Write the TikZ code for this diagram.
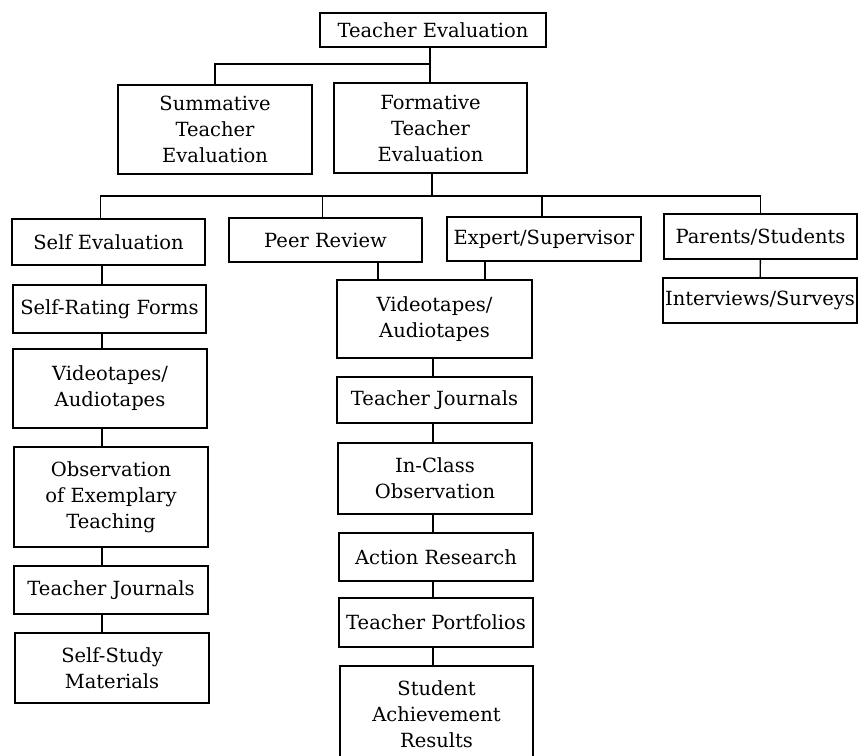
\documentclass[tikz,border=0pt]{standalone}
\usepackage{fontspec}
\setmainfont{DejaVu Serif}
\usetikzlibrary{positioning}

\tikzset{
  box/.style={draw, line width=1.4pt, align=center, inner sep=0pt,
    font=\fontsize{19.5}{26}\selectfont},
  link/.style={line width=1.4pt},
}

\begin{document}
\begin{tikzpicture}[x=1pt,y=-1pt]
\useasboundingbox (0,0) rectangle (858,755);
% top levels
\node[box, minimum width=226pt, minimum height=34pt] (top) at (433,30) {Teacher Evaluation};
\node[box, minimum width=194pt, minimum height=89pt] (summ) at (215,129.5) {Summative\\Teacher\\Evaluation};
\node[box, minimum width=193pt, minimum height=90pt] (form) at (430.5,128) {Formative\\Teacher\\Evaluation};
% sources
\node[box, minimum width=193pt, minimum height=46pt] (selfeval) at (108.5,242) {Self Evaluation};
\node[box, minimum width=193pt, minimum height=44pt] (peer) at (325.5,240) {Peer Review};
\node[box, minimum width=194pt, minimum height=44pt] (expert) at (544,239) {Expert/Supervisor};
\node[box, minimum width=193pt, minimum height=45pt] (parents) at (760.5,236.5) {Parents/Students};
\node[box, minimum width=194pt, minimum height=45pt] (interv) at (760,300.5) {Interviews/Surveys};
% self evaluation column
\node[box, minimum width=193pt, minimum height=48pt] (rating) at (109.5,309) {Self-Rating Forms};
\node[box, minimum width=194pt, minimum height=79pt] (lvideo) at (110,388.5) {Videotapes/\\Audiotapes};
\node[box, minimum width=194pt, minimum height=100pt] (observ) at (111,497) {Observation\\of Exemplary\\Teaching};
\node[box, minimum width=194pt, minimum height=48pt] (ljournal) at (111,590) {Teacher Journals};
\node[box, minimum width=194pt, minimum height=70pt] (study) at (112,668) {Self-Study\\Materials};
% peer/expert column
\node[box, minimum width=195pt, minimum height=78pt] (mvideo) at (434.5,319) {Videotapes/\\Audiotapes};
\node[box, minimum width=195pt, minimum height=46pt] (mjournal) at (434.5,400) {Teacher Journals};
\node[box, minimum width=194pt, minimum height=71pt] (inclass) at (435,478.5) {In-Class\\Observation};
\node[box, minimum width=194pt, minimum height=48pt] (action) at (436,557) {Action Research};
\node[box, minimum width=194pt, minimum height=49pt] (portf) at (436,622.5) {Teacher Portfolios};
\node[box, minimum width=193pt, minimum height=96pt] (student) at (436.5,714) {Student\\Achievement\\Results};

% connectors
\coordinate (j1) at (430,64);
\coordinate (j2) at (432,196);
\draw[link] (form.north -| j1) -- (top.south -| j1);
\draw[link] (summ.north) |- (j1);
\draw[link] (form.south -| j2) -- (j2);
\draw[link] ([xshift=-8pt]selfeval.north) |- (j2);
\draw[link] ([xshift=-3pt]peer.north) -- ([xshift=-3pt]peer.north |- j2);
\draw[link] ([xshift=-2pt]expert.north) -- ([xshift=-2pt]expert.north |- j2);
\draw[link] (parents.north) |- (j2);
\draw[link] (parents) -- (interv);
\draw[link] (mvideo.north -| 378,0) -- (peer.south -| 378,0);
\draw[link] (mvideo.north -| 485,0) -- (expert.south -| 485,0);
% columns
\foreach \a/\b in {selfeval/rating, rating/lvideo, lvideo/observ, observ/ljournal, ljournal/study}
  \draw[link] (\a.south -| 102,0) -- (\b.north -| 102,0);
\foreach \a/\b in {mvideo/mjournal, mjournal/inclass, inclass/action, action/portf, portf/student}
  \draw[link] (\a.south -| 433,0) -- (\b.north -| 433,0);
\end{tikzpicture}
\end{document}
